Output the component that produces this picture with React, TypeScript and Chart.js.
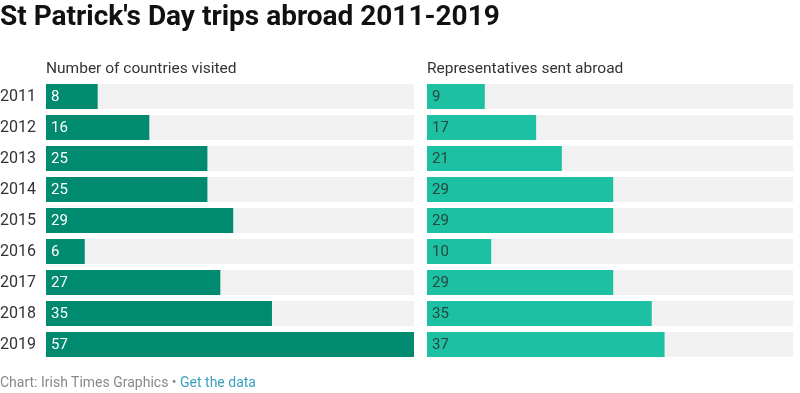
import React, { useEffect, useRef } from "react";
import { Chart, registerables } from "chart.js";

Chart.register(...registerables);

const years = ["2011", "2012", "2013", "2014", "2015", "2016", "2017", "2018", "2019"];
const countriesVisited = [8, 16, 25, 25, 29, 6, 27, 35, 57];
const representatives = [9, 17, 21, 29, 29, 10, 29, 35, 37];
const axisMax = 57;

const FONT = "Roboto, 'Noto Sans', sans-serif";

const valueLabels = {
  id: "valueLabels",
  afterDatasetsDraw(chart: any, _args: any, opts: any) {
    const ctx = chart.ctx;
    const meta = chart.getDatasetMeta(1);
    const data = chart.data.datasets[1].data as number[];
    ctx.save();
    ctx.font = `15px ${FONT}`;
    ctx.fillStyle = opts.color;
    ctx.textBaseline = "middle";
    ctx.textAlign = "left";
    meta.data.forEach((bar: any, i: number) => {
      ctx.fillText(String(data[i]), bar.base + 5, bar.y + 1);
    });
    ctx.restore();
  },
};

function Panel({
  values,
  color,
  labelColor,
  showYears,
  width,
}: {
  values: number[];
  color: string;
  labelColor: string;
  showYears: boolean;
  width: number;
}) {
  const ref = useRef<HTMLCanvasElement>(null);
  useEffect(() => {
    if (!ref.current) return;
    const chart = new Chart(ref.current, {
      type: "bar",
      data: {
        labels: years,
        datasets: [
          {
            data: years.map(() => axisMax),
            backgroundColor: "#f1f1f1",
            grouped: false,
            order: 2,
            barPercentage: 0.81,
            categoryPercentage: 1,
          },
          {
            data: values,
            backgroundColor: color,
            grouped: false,
            order: 1,
            barPercentage: 0.81,
            categoryPercentage: 1,
          },
        ],
      },
      options: {
        indexAxis: "y",
        responsive: false,
        animation: false,
        layout: { padding: { top: 81, bottom: 33, left: 0, right: 0 } },
        plugins: {
          legend: { display: false },
          tooltip: { enabled: false },
          valueLabels: { color: labelColor },
        } as any,
        scales: {
          x: { display: false, min: 0, max: axisMax },
          y: {
            display: showYears,
            grid: { display: false },
            border: { display: false },
            ticks: {
              color: "#333333",
              font: { family: FONT, size: 16 },
              crossAlign: "far",
              padding: 0,
            },
            afterFit(scale: any) {
              scale.width = showYears ? 46 : 0;
            },
          },
        },
      },
      plugins: [valueLabels],
    });
    return () => chart.destroy();
  }, []);
  return <canvas ref={ref} width={width} height={393} style={{ width, height: 393, display: "block" }} />;
}

export default function App() {
  useEffect(() => {
    document.body.style.margin = "0";
  }, []);
  return (
    <div style={{ position: "relative", width: 800, height: 393, background: "#fff", fontFamily: FONT, overflow: "hidden" }}>
      <div style={{ position: "absolute", left: 0, top: 0 }}>
        <Panel values={countriesVisited} color="#008a70" labelColor="#ffffff" showYears={true} width={414} />
      </div>
      <div style={{ position: "absolute", left: 427, top: 0 }}>
        <Panel values={representatives} color="#1ec0a3" labelColor="#27473f" showYears={false} width={366} />
      </div>
      <div
        style={{
          position: "absolute",
          left: 0,
          top: -1,
          fontSize: 28,
          lineHeight: "33px",
          fontWeight: 700,
          color: "#111",
          whiteSpace: "nowrap",
        }}
      >
        St Patrick's Day trips abroad 2011-2019
      </div>
      <div style={{ position: "absolute", left: 46, top: 59, fontSize: 15.5, lineHeight: "18px", color: "#333", whiteSpace: "nowrap" }}>
        Number of countries visited
      </div>
      <div style={{ position: "absolute", left: 427, top: 59, fontSize: 15.5, lineHeight: "18px", color: "#333", whiteSpace: "nowrap" }}>
        Representatives sent abroad
      </div>
      <div style={{ position: "absolute", left: 0, top: 374, fontSize: 14, lineHeight: "16px", color: "#888", whiteSpace: "nowrap" }}>
        Chart: Irish Times Graphics • <span style={{ color: "#3a9fbf" }}>Get the data</span>
      </div>
    </div>
  );
}
